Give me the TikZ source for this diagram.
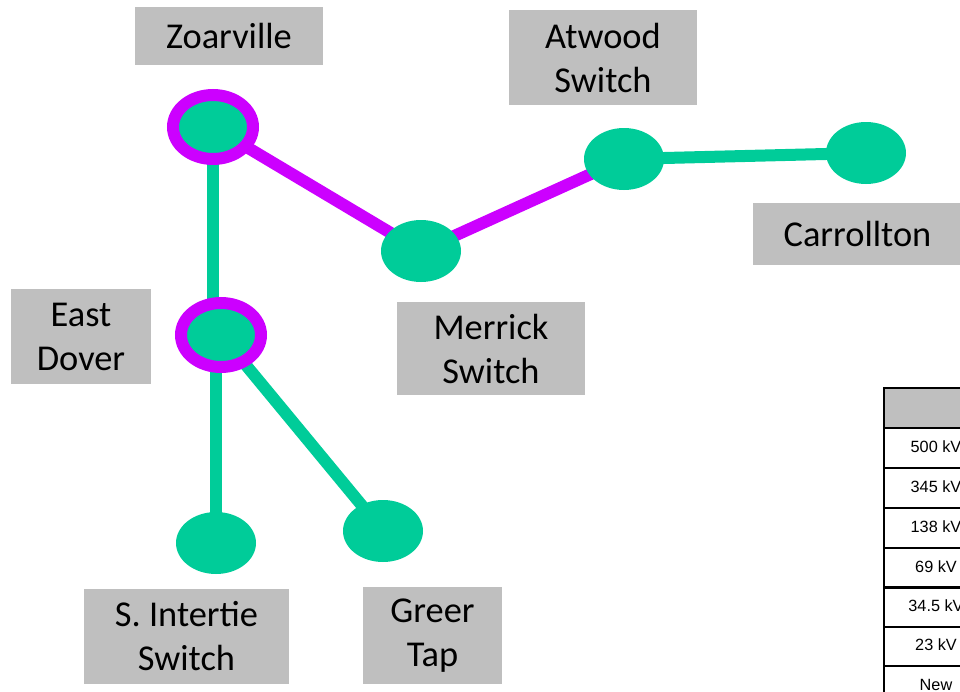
\documentclass[tikz,border=0pt]{standalone}
\usepackage{fontspec}
\setmainfont{Carlito}
\newfontfamily\tablefont{Liberation Sans}
\usetikzlibrary{shapes.geometric,backgrounds}
\definecolor{grn}{RGB}{0,204,153}
\definecolor{pur}{RGB}{204,0,255}
\definecolor{lbl}{RGB}{191,191,191}
\tikzset{
  bus/.style={ellipse,fill=grn,inner sep=0pt,minimum width=60pt,minimum height=46.5pt},
  ringbus/.style={ellipse,fill=grn,draw=pur,line width=9pt,inner sep=0pt,minimum width=60pt,minimum height=48pt},
  lblbox/.style={fill=lbl,inner sep=0pt,align=center,font=\fontsize{27.3}{33}\selectfont},
  gline/.style={draw=grn,line width=9pt},
  pline/.style={draw=pur,line width=9pt},
  cell/.style={draw=black,line width=1.3pt,inner sep=0pt,anchor=north west,minimum width=90pt},
  celltext/.style={font=\tablefont\fontsize{12.2}{14}\selectfont,inner sep=0pt},
}
\begin{document}
\begin{tikzpicture}[x=0.75pt,y=-0.75pt]
\useasboundingbox (0,0) rectangle (960,692);
\clip (0,0) rectangle (960,692);
% buses
\node[ringbus] (zoar) at (213,127) {};
\node[ringbus] (dover) at (221,335) {};
\node[bus] (merrick) at (421,251) {};
\node[bus] (atwood) at (624,159) {};
\node[bus] (carr) at (866,153) {};
\node[bus] (sint) at (216,543) {};
\node[bus] (greer) at (383,531) {};
% connectors
\begin{scope}[on background layer]
\draw[gline] (zoar.center) -- (zoar.center |- dover.center);
\draw[pline] (zoar.center) -- (merrick.center);
\draw[pline] (merrick.center) -- (atwood.center);
\draw[gline] (atwood.center) -- (carr.center);
\draw[gline] (sint.center |- dover.center) -- (sint.center);
\draw[gline] (dover.center) -- (greer.center);
\end{scope}
% labels
\node[lblbox,minimum width=141pt,minimum height=43.5pt] (lzoar) at (229,36) {Zoarville};
\node[lblbox,minimum width=141pt,minimum height=71pt] (latw) at (603,57.5) {Atwood\\Switch};
\node[lblbox,minimum width=157pt,minimum height=46.5pt] (lcarr) at (857.5,234) {Carrollton};
\node[lblbox,minimum width=105pt,minimum height=71pt] (ldover) at (81,336.5) {East\\Dover};
\node[lblbox,minimum width=141pt,minimum height=70pt] (lmer) at (491,348.5) {Merrick\\Switch};
\node[lblbox,minimum width=154pt,minimum height=71pt] (lsint) at (186.5,636.5) {S. Intertie\\Switch};
\node[lblbox,minimum width=104pt,minimum height=73pt] (lgreer) at (432.5,635.5) {Greer\\Tap};
% table
\node[cell,fill=lbl,minimum height=30pt] (th) at (883,387) {};
\node[cell,minimum height=30pt] (r1) at (883,427) {};
\node[cell,minimum height=30pt] (r2) at (883,467) {};
\node[cell,minimum height=30pt] (r3) at (883,507) {};
\node[cell,minimum height=29.5pt] (r4) at (883,547) {};
\node[cell,minimum height=29.5pt] (r5) at (883,587) {};
\node[cell,minimum height=29.5pt] (r6) at (883,626) {};
\node[cell,minimum height=30pt] (r7) at (883,665) {};
\node[celltext] (t1) at (936,447) {500 kV};
\node[celltext] (t2) at (936,487) {345 kV};
\node[celltext] (t3) at (936,527) {138 kV};
\node[celltext] (t4) at (936,567) {69 kV};
\node[celltext] (t5) at (936,606) {34.5 kV};
\node[celltext] (t6) at (936,645) {23 kV};
\node[celltext] (t7) at (936,685) {New};
\end{tikzpicture}
\end{document}
